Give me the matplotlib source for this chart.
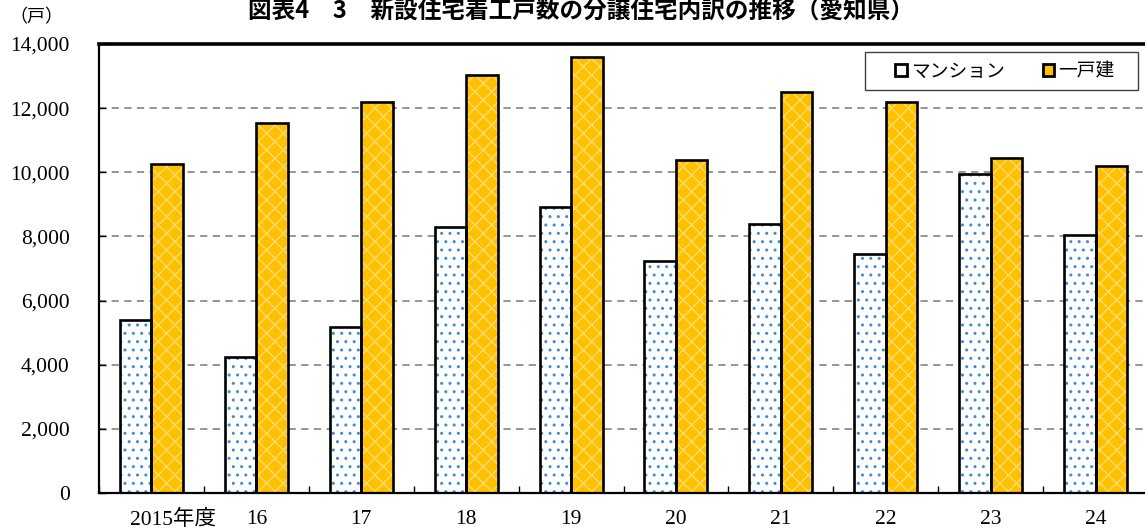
import matplotlib
matplotlib.use("Agg")
import matplotlib.pyplot as plt
from matplotlib.patches import Patch, Rectangle
from matplotlib.transforms import ScaledTranslation
import numpy as np

# 年度別 分譲住宅の着工戸数（戸）
years = ['2015年度', '16', '17', '18', '19', '20', '21', '22', '23', '24']
mansion = [5400, 4250, 5170, 8290, 8910, 7230, 8400, 7440, 9960, 8030]
kodate = [10250, 11550, 12200, 13030, 13590, 10370, 12500, 12200, 10460, 10210]
series_names = ['マンション', '一戸建']
yticks = [0, 2000, 4000, 6000, 8000, 10000, 12000, 14000]

plt.rcParams['font.family'] = ['Liberation Serif', 'Noto Sans CJK JP']

W, H = 1145, 532
fig = plt.figure(figsize=(W / 100, H / 100), dpi=100)
ax = fig.add_axes([99 / W, 1 - 493 / H, 1049 / W, 449 / H])

x = np.arange(len(years))
w = 0.3
gothic = ['Noto Sans CJK JP', 'DejaVu Sans']

# マンション：白地に青のドット
with plt.rc_context({'hatch.linewidth': 1.0}):
    ax.bar(x - w / 2, mansion, w, color='white', edgecolor='#3A8DD6', hatch='..',
           linewidth=0, zorder=2)
ax.bar(x - w / 2, mansion, w, fill=False, edgecolor='black', linewidth=1.9, zorder=3)
# 一戸建：黄色地に薄い格子
with plt.rc_context({'hatch.linewidth': 1.0}):
    ax.bar(x + w / 2, kodate, w, color='#FFC000', edgecolor='#FFDC70', hatch='xx',
           linewidth=0, zorder=2)
ax.bar(x + w / 2, kodate, w, fill=False, edgecolor='black', linewidth=1.9, zorder=3)

ax.set_xlim(-0.5, len(years) - 0.5)
ax.set_ylim(0, 14000)
ax.set_yticks(yticks)
ax.set_yticklabels([f'{v:,}' for v in yticks])
ax.yaxis.grid(True, linestyle=(0, (4, 3)), color='#8C8C8C', linewidth=1.3)
ax.set_axisbelow(True)

ax.set_xticks(np.arange(-0.5, len(years), 1))
ax.set_xticklabels([])
ax.set_xticks(x, minor=True)
ax.set_xticklabels(years, minor=True)
ax.tick_params(axis='x', which='major', direction='in', length=5, width=1)
ax.tick_params(axis='x', which='minor', length=0, labelsize=15.5, pad=12)
ax.tick_params(axis='y', direction='in', length=5, width=1, labelsize=15.5, pad=21)

# 先頭ラベルだけ右に寄せる
lbl = ax.xaxis.get_minorticklabels()[0]
lbl.set_transform(lbl.get_transform() + ScaledTranslation(0.22, 0, fig.dpi_scale_trans))

for side in ['left', 'bottom']:
    ax.spines[side].set_linewidth(1.6)
ax.spines['top'].set_linewidth(2.6)
ax.spines['right'].set_visible(False)

# 凡例（枠は別に描く）
fig.patches.append(Rectangle((865 / W, 1 - 90 / H), 273 / W, 38 / H,
                             transform=fig.transFigure, facecolor='white',
                             edgecolor='#404040', linewidth=1, zorder=4))
handles = [Patch(facecolor='white', edgecolor='black', linewidth=2),
           Patch(facecolor='#FFC000', edgecolor='black', linewidth=2)]
leg = fig.legend(handles, series_names, loc='center left', ncol=2,
                 bbox_to_anchor=(886 / W, 1 - 71 / H), frameon=False,
                 handlelength=0.6, handleheight=0.6, handletextpad=0.25,
                 columnspacing=2.0, borderpad=0.0,
                 prop={'family': gothic, 'size': 13.5})
leg.set_zorder(5)

fig.text(36 / W, 1 - 17 / H, '（戸）', ha='center', va='center', fontsize=13, family=gothic)
fig.text(581 / W, 1 - 11 / H, '図表4　3　新設住宅着工戸数の分譲住宅内訳の推移（愛知県）',
         ha='center', va='center', fontsize=17, fontweight='bold', family=gothic)

fig.savefig('out.png', dpi=100)
